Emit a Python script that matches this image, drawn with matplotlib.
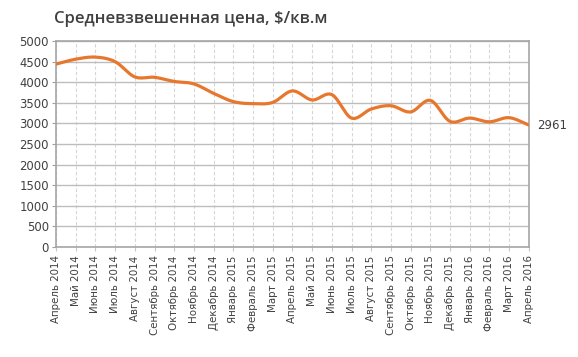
import numpy as np
import matplotlib
matplotlib.use("Agg")
import matplotlib.pyplot as plt

months = ["Апрель 2014", "Май 2014", "Июнь 2014", "Июль 2014", "Август 2014",
          "Сентябрь 2014", "Октябрь 2014", "Ноябрь 2014", "Декабрь 2014",
          "Январь 2015", "Февраль 2015", "Март 2015", "Апрель 2015", "Май 2015",
          "Июнь 2015", "Июль 2015", "Август 2015", "Сентябрь 2015", "Октябрь 2015",
          "Ноябрь 2015", "Декабрь 2015", "Январь 2016", "Февраль 2016", "Март 2016",
          "Апрель 2016"]
prices = [4440, 4560, 4610, 4500, 4130, 4120, 4020, 3960, 3730, 3530, 3480, 3510,
          3790, 3570, 3700, 3130, 3350, 3430, 3280, 3560, 3050, 3130, 3040, 3140, 2961]
yticks = list(range(0, 5001, 500))


def catmull_rom(x, y, n=20):
    x = np.asarray(x, float)
    y = np.asarray(y, float)
    px = np.concatenate([[2 * x[0] - x[1]], x, [2 * x[-1] - x[-2]]])
    py = np.concatenate([[2 * y[0] - y[1]], y, [2 * y[-1] - y[-2]]])
    xs, ys = [], []
    for i in range(1, len(px) - 2):
        t = np.linspace(0, 1, n, endpoint=False)
        for arr, out in ((px, xs), (py, ys)):
            p0, p1, p2, p3 = arr[i - 1], arr[i], arr[i + 1], arr[i + 2]
            out.append(0.5 * ((2 * p1) + (-p0 + p2) * t +
                              (2 * p0 - 5 * p1 + 4 * p2 - p3) * t ** 2 +
                              (-p0 + 3 * p1 - 3 * p2 + p3) * t ** 3))
    xs.append([x[-1]])
    ys.append([y[-1]])
    return np.concatenate(xs), np.concatenate(ys)


fig = plt.figure(figsize=(5.78, 3.57), dpi=100)
ax = fig.add_axes([0.0969, 0.308, 0.818, 0.577])

x = np.arange(len(months))
sx, sy = catmull_rom(x, prices)
ax.plot(sx, sy, color="#E8772E", lw=2.3, solid_capstyle="round", zorder=3)

ax.set_xlim(0, len(months) - 1)
ax.set_ylim(0, 5000)
ax.set_yticks(yticks)
ax.set_xticks(x)
ax.set_xticklabels(months, rotation=90, fontsize=7.4, color="#404040",
                   family="DejaVu Sans")
ax.tick_params(axis="y", labelsize=8.4, colors="#404040", length=3, width=0.8,
               color="#A0A0A0", pad=2)
ax.tick_params(axis="x", length=3, width=0.8, color="#C8C8C8", pad=3)

ax.grid(axis="y", color="#BDBDBD", lw=1, ls="-", zorder=1)
ax.grid(axis="x", color="#D6D6D6", lw=0.8, ls=(0, (3, 2)), zorder=1)
for side in ["left", "bottom", "right", "top"]:
    ax.spines[side].set_color("#A6A6A6")
    ax.spines[side].set_linewidth(1.2)

ax.text(len(months) - 1 + 0.4, prices[-1], str(prices[-1]), fontsize=8.5,
        color="#404040", va="center", ha="left")

fig.text(0.094, 0.948, "Средневзвешенная цена, $/кв.м", fontsize=12,
         fontweight="semibold", color="#404040", family="Open Sans", va="center")

fig.savefig("out.png", dpi=100, facecolor="white")
